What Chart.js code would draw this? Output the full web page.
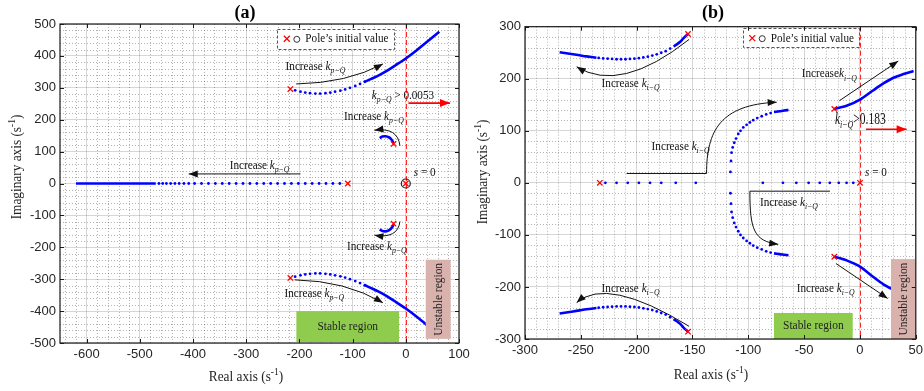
<!DOCTYPE html>
<html>
<head>
<meta charset="utf-8">
<script src="https://cdn.jsdelivr.net/npm/chart.js@4.4.1/dist/chart.umd.min.js"></script>
<style>
  body { margin: 0; background: #fff; width: 924px; height: 391px; position: relative; overflow: hidden; }
  canvas { position: absolute; top: 0; }
  #chartA { left: 0; }
  #chartB { left: 462px; }
</style>
</head>
<body>
<canvas id="chartA" width="480" height="391"></canvas>
<canvas id="chartB" width="462" height="391"></canvas>
<script>
// ---------- (a) root locus for increasing k_p-Q ----------
const xTicksA = [-600, -500, -400, -300, -200, -100, 0, 100];
const yTicksA = [-500, -400, -300, -200, -100, 0, 100, 200, 300, 400, 500];

const polesA = [[-217, 296], [-217, -296], [-23, 124], [-23, -126], [-109, 0], [0, 0]];
const originA = [[0, 0]];

const upperDotsA = [[-208, 292], [-198, 288], [-189, 285], [-180, 283], [-170, 282], [-161, 282],
  [-151, 283], [-142, 285], [-133, 288], [-123, 291], [-114, 295], [-105, 300], [-95, 306],
  [-86, 312], [-77, 319]];
const upperLineA = [[-77, 319], [-65, 328], [-50, 340], [-35, 354], [-20, 370], [0, 392],
  [20, 417], [40, 444], [63, 476]];
const lowerDotsA = [[-208, -292], [-198, -288], [-189, -285], [-180, -283], [-170, -282], [-161, -282],
  [-151, -283], [-142, -285], [-133, -288], [-123, -291], [-114, -295], [-105, -300], [-95, -306],
  [-86, -312], [-77, -319]];
const lowerLineA = [[-77, -319], [-65, -328], [-50, -340], [-35, -354], [-20, -370], [0, -392],
  [20, -417], [40, -444], [63, -476]];
const smallUpperA = [[-23, 127], [-27, 138], [-32, 145], [-38, 148], [-44, 147], [-49, 142]];
const smallLowerA = [[-23, -129], [-27, -140], [-32, -147], [-38, -150], [-44, -149], [-49, -144]];
const realDotsA = [[-124, 0], [-137, 0], [-150, 0], [-163, 0], [-176, 0], [-189, 0], [-202, 0],
  [-215, 0], [-228, 0], [-241, 0], [-254, 0], [-267, 0], [-280, 0], [-293, 0], [-306, 0],
  [-319, 0], [-332, 0], [-345, 0], [-358, 0], [-371, 0], [-384, 0], [-397, 0], [-408, 0],
  [-417, 0], [-426, 0], [-434, 0], [-442, 0], [-450, 0], [-457, 0], [-464, 0]];
const realLineA = [[-470, 0], [-620, 0]];

// ---------- (b) root locus for increasing k_i-Q ----------
const xTicksB = [-300, -250, -200, -150, -100, -50, 0, 50];
const yTicksB = [-300, -200, -100, 0, 100, 200, 300];

const polesB = [[-154, 286], [-154, -286], [-23, 142], [-23, -142], [-233, 0], [0, 0]];

const ulLineB = [[-154, 286], [-158, 278], [-161, 271], [-164, 266], [-167, 262]];
const ulDotsB = [[-170, 258], [-174, 253], [-178, 250], [-182, 247], [-186, 244.5], [-190, 242.5],
  [-194, 241], [-198, 239.5], [-202, 238.5], [-206, 238], [-210, 237.5], [-214, 237.5],
  [-218, 237.5], [-222, 238], [-226, 238.5], [-230, 239], [-234, 240]];
const ulEndB = [[-236, 240.5], [-245, 243], [-251, 245], [-257, 247], [-263, 249], [-269, 251]];
const llLineB = [[-154, -286], [-158, -278], [-161, -271], [-164, -266], [-167, -262]];
const llDotsB = [[-170, -258], [-174, -253], [-178, -250], [-182, -247], [-186, -244.5], [-190, -242.5],
  [-194, -241], [-198, -239.5], [-202, -238.5], [-206, -238], [-210, -237.5], [-214, -237.5],
  [-218, -237.5], [-222, -238], [-226, -238.5], [-230, -239], [-234, -240]];
const llEndB = [[-236, -240.5], [-245, -243], [-251, -245], [-257, -247], [-263, -249], [-269, -251]];

const urLineB = [[-23, 142], [-12, 148], [0, 160], [12, 178], [21, 191], [30, 202], [39, 209], [48, 215]];
const lrLineB = [[-23, -142], [-12, -149], [0, -161], [12, -181], [21, -195], [30, -205], [39, -210], [48, -215]];

const realDotsB = [[-228, 0], [-218, 0], [-208, 0], [-198, 0], [-188, 0], [-178, 0], [-165, 0], [-147, 0],
  [-87, 0], [-69, 0], [-57, 0], [-46, 0], [-36, 0], [-27, 0], [-19, 0], [-12, 0], [-6, 0]];
const midUpDotsB = [[-116, 21], [-115.5, 42], [-115, 58], [-114, 68], [-112.6, 77], [-111, 85],
  [-109, 94], [-107, 100], [-104.5, 106.5], [-101.5, 111.5], [-98.6, 116], [-95.6, 120.5],
  [-92, 124.5], [-88, 128], [-84, 131.5], [-80, 134]];
const midUpLineB = [[-77, 136], [-72, 137.5], [-68, 139], [-64, 140]];
const midLoDotsB = [[-116, -20], [-115.5, -40], [-115, -56], [-114, -67], [-112.6, -77], [-111, -85],
  [-109, -93], [-107, -100], [-104.5, -106], [-101.5, -111.5], [-98.6, -116], [-95.6, -120.5],
  [-92, -124.5], [-88, -128], [-84, -131.5], [-80, -134]];
const midLoLineB = [[-77, -135.5], [-72, -137], [-68, -138], [-64, -139]];

const SERIF = '"Liberation Serif", "Times New Roman", serif';
const SANS = '"Liberation Sans", Arial, sans-serif';
const BLUE = '#0000ff';
const RED = '#ff0000';

const toPts = arr => arr.map(p => ({ x: p[0], y: p[1] }));
const dots = arr => ({ data: toPts(arr), showLine: false, pointRadius: 1.4, pointBackgroundColor: BLUE, pointBorderWidth: 0 });
const curve = arr => ({ data: toPts(arr), showLine: true, borderColor: BLUE, borderWidth: 2.6, pointRadius: 0, tension: 0.3 });
const crosses = arr => ({ data: toPts(arr), showLine: false, pointStyle: 'crossRot', pointRadius: 3.8,
  pointBorderColor: RED, pointBorderWidth: 1.3, pointBackgroundColor: 'transparent' });
const rings = arr => ({ data: toPts(arr), showLine: false, pointStyle: 'circle', pointRadius: 4.5,
  pointBorderColor: '#222', pointBorderWidth: 1.2, pointBackgroundColor: 'transparent' });

const incr = (sub, gap = ' ') => [['Increase' + gap, 'n'], ['k', 'i'], [sub, 'sub']];

function fontFor(kind, size) {
  if (kind === 'i') return `italic ${size}px ${SERIF}`;
  if (kind === 'sub') return `italic ${Math.round(size * 0.68)}px ${SERIF}`;
  if (kind === 'sup') return `${Math.round(size * 0.68)}px ${SERIF}`;
  if (kind === 'b') return `bold ${size}px ${SERIF}`;
  return `${size}px ${SERIF}`;
}

function drawRich(ctx, x, y, segs, size, sx, align, rot, color) {
  ctx.save();
  ctx.translate(x, y);
  if (rot) ctx.rotate(rot);
  ctx.scale(sx, 1);
  ctx.fillStyle = color || '#111';
  ctx.textBaseline = 'middle';
  ctx.textAlign = 'left';
  let w = 0;
  for (const s of segs) { ctx.font = fontFor(s[1], size); w += ctx.measureText(s[0]).width; }
  let cx = align === 'center' ? -w / 2 : 0;
  for (const s of segs) {
    ctx.font = fontFor(s[1], size);
    const dy = s[1] === 'sub' ? size * 0.32 : s[1] === 'sup' ? -size * 0.35 : 0;
    ctx.fillText(s[0], cx, dy);
    cx += ctx.measureText(s[0]).width;
  }
  ctx.restore();
}

function arrowHead(ctx, fx, fy, tx, ty, len, half) {
  const ang = Math.atan2(ty - fy, tx - fx);
  ctx.beginPath();
  ctx.moveTo(tx, ty);
  ctx.lineTo(tx - len * Math.cos(ang) + half * Math.sin(ang), ty - len * Math.sin(ang) - half * Math.cos(ang));
  ctx.lineTo(tx - len * Math.cos(ang) - half * Math.sin(ang), ty - len * Math.sin(ang) + half * Math.cos(ang));
  ctx.closePath();
  ctx.fill();
}

const decor = {
  id: 'decor',
  beforeDatasetsDraw(chart, args, o) {
    const { ctx, chartArea: a, scales: { x, y } } = chart;
    ctx.save();
    ctx.beginPath();
    ctx.rect(a.left, a.top, a.width, a.height);
    ctx.clip();
    // dotted minor grid
    ctx.strokeStyle = 'rgba(0,0,0,0.3)';
    ctx.lineWidth = 1;
    ctx.setLineDash([1, 2]);
    for (let v = Math.ceil(x.min / o.minorX) * o.minorX; v <= x.max; v += o.minorX) {
      if (Math.abs(v % o.majorX) < 1e-6) continue;
      const px = Math.round(x.getPixelForValue(v)) + 0.5;
      ctx.beginPath(); ctx.moveTo(px, a.top); ctx.lineTo(px, a.bottom); ctx.stroke();
    }
    for (let v = Math.ceil(y.min / o.minorY) * o.minorY; v <= y.max; v += o.minorY) {
      if (Math.abs(v % o.majorY) < 1e-6) continue;
      const py = Math.round(y.getPixelForValue(v)) + 0.5;
      ctx.beginPath(); ctx.moveTo(a.left, py); ctx.lineTo(a.right, py); ctx.stroke();
    }
    // s = 0 boundary
    ctx.strokeStyle = 'rgba(255,0,0,0.85)';
    ctx.setLineDash([5, 3]);
    const zx = Math.round(x.getPixelForValue(0)) + 0.5;
    ctx.beginPath(); ctx.moveTo(zx, a.top); ctx.lineTo(zx, a.bottom); ctx.stroke();
    ctx.restore();
  },
  afterDatasetsDraw(chart, args, o) {
    const { ctx, chartArea: a, scales: { x, y } } = chart;
    const X = v => x.getPixelForValue(v);
    const Y = v => y.getPixelForValue(v);
    ctx.save();

    // stable / unstable regions
    for (const r of o.regions) {
      const x0 = Math.max(X(r.x0), a.left), x1 = Math.min(X(r.x1), a.right);
      const y0 = Y(r.y0), y1 = Math.min(Y(r.y1), a.bottom);
      ctx.fillStyle = r.color;
      ctx.fillRect(x0, y0, x1 - x0, y1 - y0);
      drawRich(ctx, (x0 + x1) / 2, (y0 + y1) / 2, [[r.label, 'n']], 13, 0.88, 'center', r.vertical ? -Math.PI / 2 : 0, '#222');
    }

    // arrows
    for (const ar of o.arrows) {
      const color = ar.red ? RED : '#111';
      ctx.strokeStyle = color;
      ctx.fillStyle = color;
      ctx.lineWidth = ar.red ? 1.6 : 1;
      ctx.setLineDash([]);
      ctx.beginPath();
      ctx.moveTo(X(ar.path[0][0]), Y(ar.path[0][1]));
      for (let i = 1; i < ar.path.length; i++) ctx.lineTo(X(ar.path[i][0]), Y(ar.path[i][1]));
      let last = ar.path[ar.path.length - 1];
      if (ar.c1 && ar.c2) {
        ctx.bezierCurveTo(X(ar.c1[0]), Y(ar.c1[1]), X(ar.c2[0]), Y(ar.c2[1]), X(ar.to[0]), Y(ar.to[1]));
        last = ar.c2;
      } else if (ar.c1) {
        ctx.quadraticCurveTo(X(ar.c1[0]), Y(ar.c1[1]), X(ar.to[0]), Y(ar.to[1]));
        last = ar.c1;
      } else {
        ctx.lineTo(X(ar.to[0]), Y(ar.to[1]));
      }
      ctx.stroke();
      arrowHead(ctx, X(last[0]), Y(last[1]), X(ar.to[0]), Y(ar.to[1]), ar.red ? 10 : 9, ar.red ? 4 : 3.5);
    }

    // labels
    for (const t of o.texts) {
      drawRich(ctx, X(t.x), Y(t.y), t.segs, t.size || 13, t.sx || 0.86, 'left', 0, '#111');
    }

    // legend box
    const lg = o.legend;
    const lx0 = X(lg.x0), lx1 = X(lg.x1), ly0 = Y(lg.y0), ly1 = Y(lg.y1);
    ctx.fillStyle = '#fff';
    ctx.fillRect(lx0, ly0, lx1 - lx0, ly1 - ly0);
    ctx.strokeStyle = '#555';
    ctx.lineWidth = 1;
    ctx.setLineDash([3, 2]);
    ctx.strokeRect(Math.round(lx0) + 0.5, Math.round(ly0) + 0.5, Math.round(lx1 - lx0), Math.round(ly1 - ly0));
    ctx.setLineDash([]);
    const my = (ly0 + ly1) / 2;
    const cxm = lx0 + 9.5;
    ctx.strokeStyle = RED;
    ctx.lineWidth = 1.3;
    ctx.beginPath();
    ctx.moveTo(cxm - 3, my - 3); ctx.lineTo(cxm + 3, my + 3);
    ctx.moveTo(cxm + 3, my - 3); ctx.lineTo(cxm - 3, my + 3);
    ctx.stroke();
    ctx.strokeStyle = '#333';
    ctx.lineWidth = 1;
    ctx.beginPath(); ctx.arc(lx0 + 19.5, my + 0.5, 3, 0, Math.PI * 2); ctx.stroke();
    drawRich(ctx, lx0 + 28, my, [['Pole\u2019s initial value', 'n']], 13, 0.86, 'left', 0, '#111');

    // axes box with inward ticks
    ctx.strokeStyle = '#1a1a1a';
    ctx.lineWidth = 1.2;
    ctx.strokeRect(a.left, a.top, a.width, a.height);
    ctx.lineWidth = 1;
    ctx.beginPath();
    for (const v of o.xTicks) {
      const px = Math.round(X(v)) + 0.5;
      ctx.moveTo(px, a.bottom); ctx.lineTo(px, a.bottom - 4);
      ctx.moveTo(px, a.top); ctx.lineTo(px, a.top + 4);
    }
    for (const v of o.yTicks) {
      const py = Math.round(Y(v)) + 0.5;
      ctx.moveTo(a.left, py); ctx.lineTo(a.left + 4, py);
      ctx.moveTo(a.right, py); ctx.lineTo(a.right - 4, py);
    }
    ctx.stroke();

    // panel and axis titles
    drawRich(ctx, o.title.x, o.title.y, [[o.title.text, 'b']], 18, 1, 'center', 0, '#000');
    drawRich(ctx, o.xTitle.x, o.xTitle.y, [['Real axis (s', 'n'], ['-1', 'sup'], [')', 'n']], 14, 0.95, 'center', 0, '#222');
    drawRich(ctx, o.yTitle.x, o.yTitle.y, [['Imaginary axis (s', 'n'], ['-1', 'sup'], [')', 'n']], 14, 0.95, 'center', -Math.PI / 2, '#222');
    ctx.restore();
  }
};

function axis(min, max, ticks, fit) {
  return {
    type: 'linear', min, max,
    afterBuildTicks: s => { s.ticks = ticks.map(v => ({ value: v })); },
    afterFit: fit,
    grid: { color: 'rgba(0,0,0,0.16)', lineWidth: 1, drawTicks: false },
    border: { display: false },
    ticks: { padding: 4, color: '#262626', font: { family: SANS, size: 13 }, maxRotation: 0, autoSkip: false }
  };
}

function makeChart(id, datasets, scales, padding, decorOpts) {
  return new Chart(document.getElementById(id), {
    type: 'scatter',
    data: { datasets },
    options: {
      responsive: false,
      animation: false,
      devicePixelRatio: 1,
      layout: { padding },
      scales,
      plugins: { legend: { display: false }, tooltip: { enabled: false }, decor: decorOpts }
    },
    plugins: [decor]
  });
}

// fixed axis boxes so both plot areas sit where the figure expects them
const fitX = h => s => { s.height = h; s.paddingLeft = 0; s.paddingRight = 0; };
const fitY = w => s => { s.width = w; };

makeChart('chartA',
  [crosses(polesA), rings(originA),
   dots(upperDotsA), curve(upperLineA), dots(lowerDotsA), curve(lowerLineA),
   curve(smallUpperA), curve(smallLowerA), dots(realDotsA), curve(realLineA)],
  {
    x: axis(-650, 100, xTicksA, fitX(48)),
    y: axis(-500, 500, yTicksA, fitY(60))
  },
  { top: 24, right: 21, left: 0, bottom: 0 },
  {
    minorX: 20, majorX: 100, minorY: 20, majorY: 100,
    xTicks: xTicksA, yTicks: yTicksA,
    title: { text: '(a)', x: 245, y: 13 },
    xTitle: { x: 246, y: 377 },
    yTitle: { x: 17, y: 167 },
    legend: { x0: -241.5, x1: -22, y0: 485, y1: 422 },
    regions: [
      { x0: -205.7, x1: -12.6, y0: -400, y1: -497, color: '#8fcc4e', label: 'Stable region' },
      { x0: 37.5, x1: 84.4, y0: -239, y1: -487, color: '#d9b1ad', label: 'Unstable region', vertical: true }
    ],
    arrows: [
      { path: [[-206, 312]], c1: [-110, 315], to: [-43, 375] },
      { path: [[-11, 118]], c1: [-15, 177], to: [-59, 167] },
      { path: [[-198, 30]], to: [-408, 30] },
      { path: [[-11, -119]], c1: [-15, -174], to: [-59, -162] },
      { path: [[-209, -302]], c1: [-113, -305], to: [-43, -374] },
      { path: [[5, 252]], to: [83, 252], red: true }
    ],
    texts: [
      { x: -226, y: 368, segs: incr('p\u2212Q') },
      { x: -116, y: 209, segs: incr('p\u2212Q') },
      { x: -331, y: 57, segs: incr('p\u2212Q') },
      { x: -110.6, y: -197.5, segs: incr('p\u2212Q') },
      { x: -228, y: -343.6, segs: incr('p\u2212Q') },
      { x: -63.8, y: 276, segs: [['k', 'i'], ['p\u2212Q', 'sub'], [' > 0.0053', 'n']] },
      { x: 15, y: 34.5, segs: [['s', 'i'], [' = 0', 'n']] }
    ]
  });

makeChart('chartB',
  [crosses(polesB),
   curve(ulLineB), dots(ulDotsB), curve(ulEndB), curve(llLineB), dots(llDotsB), curve(llEndB),
   curve(urLineB), curve(lrLineB), dots(realDotsB),
   dots(midUpDotsB), curve(midUpLineB), dots(midLoDotsB), curve(midLoLineB)],
  {
    x: axis(-300, 50, xTicksB, fitX(52)),
    y: axis(-300, 300, yTicksB, fitY(63))
  },
  { top: 26.7, right: 8.2, left: 0, bottom: 0 },
  {
    minorX: 10, majorX: 50, minorY: 20, majorY: 100,
    xTicks: xTicksB, yTicks: yTicksB,
    title: { text: '(b)', x: 251, y: 13.5 },
    xTitle: { x: 249, y: 375 },
    yTitle: { x: 21, y: 172 },
    legend: { x0: -105, x1: -1.5, y0: 296.6, y1: 259.4 },
    regions: [
      { x0: -77, x1: -6.5, y0: -250, y1: -300, color: '#8fcc4e', label: 'Stable region' },
      { x0: 27.8, x1: 51, y0: -146.5, y1: -300, color: '#d9b1ad', label: 'Unstable region', vertical: true }
    ],
    arrows: [
      { path: [[-153, 275.6]], c1: [-214.6, 171], to: [-253.7, 223] },
      { path: [[-209, 18], [-137.4, 18]], c1: [-137.4, 100], c2: [-125, 150], to: [-74.6, 155] },
      { path: [[-26.9, -16], [-98.6, -16]], c1: [-98.6, -90], c2: [-95, -112], to: [-73.2, -118] },
      { path: [[-18.5, 157.7]], to: [34.3, 234] },
      { path: [[-21.5, -155]], to: [24.8, -222] },
      { path: [[-153, -275.6]], c1: [-226.7, -179], to: [-253.7, -230] },
      { path: [[5.4, 103]], to: [41.8, 103], red: true }
    ],
    texts: [
      { x: -231.4, y: 191, segs: incr('i\u2212Q') },
      { x: -186.6, y: 69, segs: incr('i\u2212Q') },
      { x: -89.6, y: -38.5, segs: incr('i\u2212Q') },
      { x: -52.2, y: 209, segs: incr('i\u2212Q', '') },
      { x: -56.7, y: -203, segs: incr('i\u2212Q') },
      { x: -231.4, y: -203, segs: incr('i\u2212Q') },
      { x: -22.4, y: 120.5, size: 16, sx: 0.72, segs: [['k', 'i'], ['i\u2212Q', 'sub'], ['>0.183', 'n']] },
      { x: 4.5, y: 20, segs: [['s', 'i'], [' = 0', 'n']] }
    ]
  });
</script>
</body>
</html>
